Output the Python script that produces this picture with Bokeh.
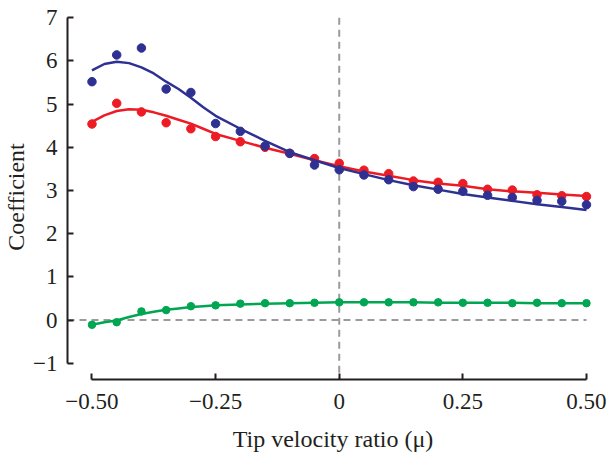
from bokeh.plotting import figure
from bokeh.models import Range1d, FixedTicker
from bokeh.embed import file_html
from bokeh.resources import INLINE

# ---- data ----
mu = [-0.50, -0.45, -0.40, -0.35, -0.30, -0.25, -0.20, -0.15, -0.10, -0.05, 0.00,
      0.05, 0.10, 0.15, 0.20, 0.25, 0.30, 0.35, 0.40, 0.45, 0.50]
blue_pts = [5.52, 6.14, 6.30, 5.35, 5.27, 4.55, 4.37, 4.03, 3.86, 3.59, 3.48,
            3.36, 3.25, 3.09, 3.03, 2.98, 2.89, 2.84, 2.77, 2.75, 2.67]
red_pts = [4.54, 5.02, 4.82, 4.57, 4.43, 4.25, 4.13, 4.00, 3.86, 3.74, 3.63,
           3.47, 3.39, 3.22, 3.19, 3.16, 3.03, 3.01, 2.90, 2.88, 2.86]
green_pts = [-0.11, -0.05, 0.20, 0.23, 0.32, 0.34, 0.38, 0.39, 0.39, 0.40, 0.41,
             0.41, 0.41, 0.41, 0.41, 0.40, 0.40, 0.39, 0.40, 0.39, 0.39]

fit_mu = [-0.50, -0.475, -0.45, -0.425, -0.40, -0.375, -0.35, -0.325, -0.30, -0.275,
          -0.25, -0.20, -0.15, -0.10, -0.05, 0.00, 0.05, 0.10, 0.15, 0.20,
          0.25, 0.30, 0.35, 0.40, 0.45, 0.50]
blue_fit = [5.78, 5.93, 5.98, 5.95, 5.85, 5.71, 5.52, 5.35, 5.15, 4.93,
            4.73, 4.43, 4.15, 3.89, 3.70, 3.52, 3.38, 3.24, 3.12, 3.02,
            2.92, 2.84, 2.76, 2.68, 2.62, 2.55]
red_fit = [4.59, 4.74, 4.84, 4.88, 4.87, 4.81, 4.73, 4.64, 4.55, 4.43,
           4.31, 4.15, 3.99, 3.85, 3.70, 3.56, 3.44, 3.34, 3.24, 3.16,
           3.11, 3.03, 2.98, 2.95, 2.91, 2.87]
green_fit = [-0.11, -0.05, -0.01, 0.07, 0.14, 0.19, 0.24, 0.27, 0.30, 0.32,
             0.34, 0.36, 0.38, 0.39, 0.40, 0.41, 0.41, 0.41, 0.41, 0.40,
             0.40, 0.40, 0.40, 0.39, 0.39, 0.39]

x_ticks = [-0.50, -0.25, 0.0, 0.25, 0.50]
x_tick_labels = ["\u22120.50", "\u22120.25", "0", "0.25", "0.50"]
y_ticks = [-1, 0, 1, 2, 3, 4, 5, 6, 7]
y_tick_labels = ["\u22121", "0", "1", "2", "3", "4", "5", "6", "7"]

x_lo, x_hi = -0.5495, 0.5243
y_lo, y_hi = -1.377, 7.076

BLUE = "#2E3192"
RED = "#ED1C24"
GREEN = "#00A651"
INK = "#231F20"
DASH = "#9A9A9A"
FONT = "Liberation Serif"

p = figure(width=608, height=455, x_range=Range1d(x_lo, x_hi), y_range=Range1d(y_lo, y_hi),
           output_backend="svg", toolbar_location=None,
           min_border_left=67, min_border_right=10, min_border_top=14, min_border_bottom=76)
p.xgrid.visible = False
p.ygrid.visible = False
p.outline_line_color = None
p.background_fill_color = "white"
p.border_fill_color = "white"

# reference dashed lines
p.line([x_lo, x_ticks[-1]], [0, 0], line_color=DASH, line_width=2, line_dash="7 5")
p.line([0, 0], [y_ticks[-1], y_lo], line_color=DASH, line_width=2, line_dash="7 5")

# fits and points
p.line(fit_mu, green_fit, line_color=GREEN, line_width=2.5)
p.scatter(mu, green_pts, size=7.5, color=GREEN)
p.line(fit_mu, red_fit, line_color=RED, line_width=2.5)
p.scatter(mu, red_pts, size=8.5, color=RED)
p.line(fit_mu, blue_fit, line_color=BLUE, line_width=2.5)
p.scatter(mu, blue_pts, size=8.5, color=BLUE)

# axes
xa = p.xaxis[0]
xa.ticker = FixedTicker(ticks=x_ticks)
xa.major_label_overrides = {t: l for t, l in zip(x_ticks, x_tick_labels)}
xa.bounds = (x_ticks[0], x_ticks[-1])
xa.axis_label = "Tip velocity ratio (\u03bc)"
xa.major_label_standoff = 14
xa.axis_label_standoff = 14

ya = p.yaxis[0]
ya.ticker = FixedTicker(ticks=y_ticks)
ya.major_label_overrides = {t: l for t, l in zip(y_ticks, y_tick_labels)}
ya.bounds = (y_ticks[0], y_ticks[-1])
ya.axis_label = "Coefficient"
ya.major_label_standoff = 10
ya.axis_label_standoff = 1

for ax in (xa, ya):
    ax.axis_line_color = INK
    ax.axis_line_width = 2
    ax.major_tick_line_color = INK
    ax.major_tick_line_width = 2
    ax.major_tick_in = 6
    ax.major_tick_out = 0
    ax.minor_tick_line_color = None
    ax.major_label_text_font = FONT
    ax.major_label_text_font_size = "23px"
    ax.major_label_text_color = INK
    ax.axis_label_text_font = FONT
    ax.axis_label_text_font_size = "24px"
    ax.axis_label_text_font_style = "normal"
    ax.axis_label_text_color = INK

open("out.html", "w").write(file_html(p, INLINE))
